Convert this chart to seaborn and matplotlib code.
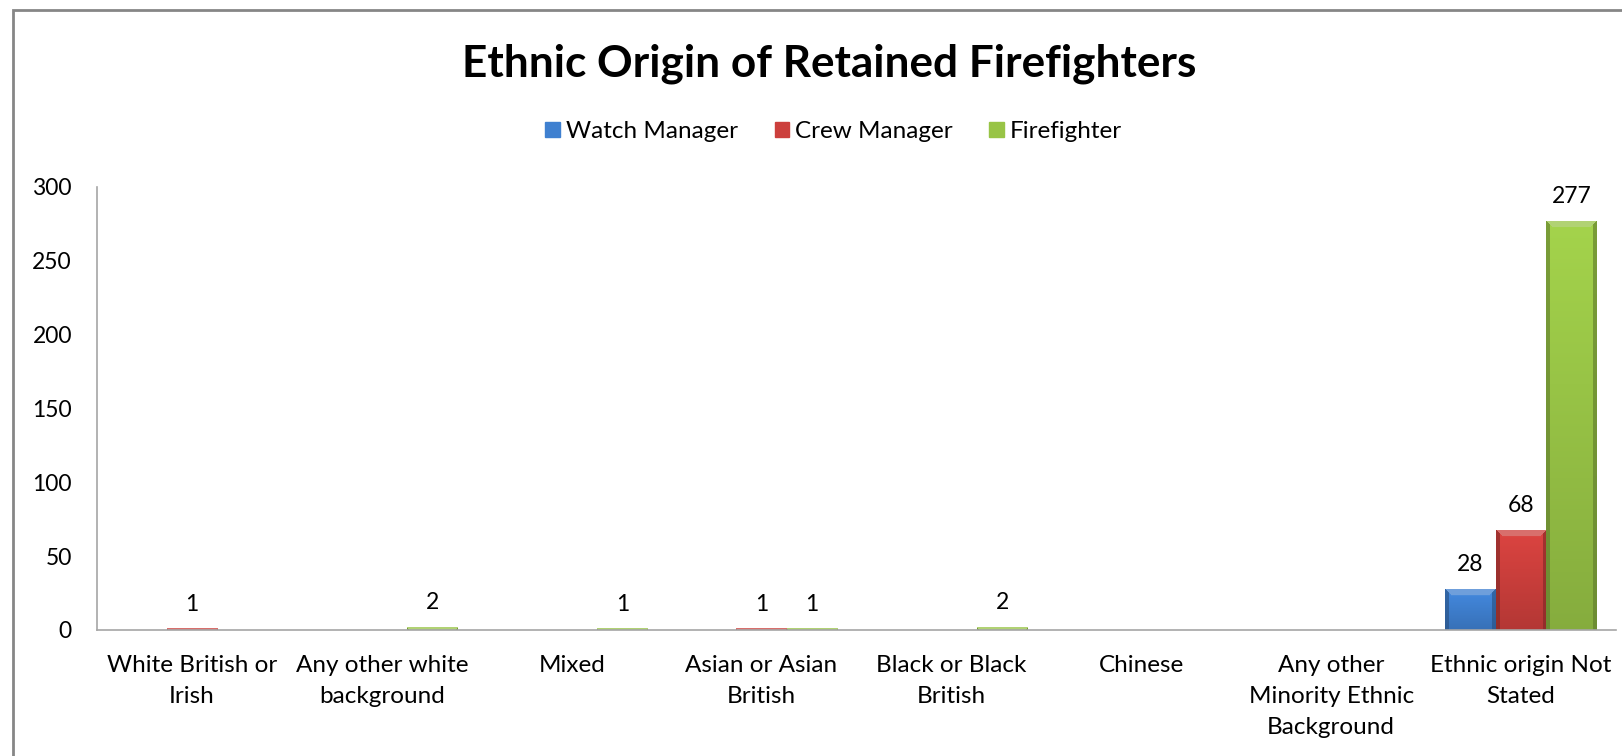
import matplotlib
matplotlib.use("Agg")
import matplotlib.pyplot as plt
import matplotlib.patches as mpatches
import matplotlib.colors as mcolors
import numpy as np
import seaborn as sns
import pandas as pd

# Dados do gráfico
categories = [
    "White British or\nIrish",
    "Any other white\nbackground",
    "Mixed",
    "Asian or Asian\nBritish",
    "Black or Black\nBritish",
    "Chinese",
    "Any other\nMinority Ethnic\nBackground",
    "Ethnic origin Not\nStated",
]
watch_manager = [0, 0, 0, 0, 0, 0, 0, 28]
crew_manager = [1, 0, 0, 1, 0, 0, 0, 68]
firefighter = [0, 2, 1, 1, 2, 0, 0, 277]
series_names = ["Watch Manager", "Crew Manager", "Firefighter"]
y_ticks = [0, 50, 100, 150, 200, 250, 300]

colors = ["#3F80D0", "#CC3F3C", "#98C446"]

sns.set_style("white")
plt.rcParams["font.family"] = ["Lato", "DejaVu Sans"]

rows = []
for name, values in zip(series_names, [watch_manager, crew_manager, firefighter]):
    for cat, v in zip(categories, values):
        rows.append({"category": cat, "series": name, "value": v})
df = pd.DataFrame(rows)

fig = plt.figure(figsize=(16.22, 7.56), dpi=100)
ax = fig.add_axes([0.0598, 0.1667, 0.9365, 0.586])

sns.barplot(data=df, x="category", y="value", hue="series", palette=colors,
            order=categories, hue_order=series_names, ax=ax,
            edgecolor="none", linewidth=0, legend=False)

ax.set_ylim(0, 300)
ax.set_xlim(-0.5, len(categories) - 0.5)


# Efeito de bisel estilo Excel: gradiente vertical com bordas claras/escuras
def bevel_bar(ax, patch, color):
    h = patch.get_height()
    if h <= 0:
        return
    x0 = patch.get_x()
    w = patch.get_width()
    p0 = ax.transData.transform((x0, 0))
    p1 = ax.transData.transform((x0 + w, h))
    w_px = max(int(round(p1[0] - p0[0])), 2)
    h_px = max(int(round(p1[1] - p0[1])), 2)
    base = np.array(mcolors.to_rgb(color))
    light = base + (1 - base) * 0.25
    dark = base * 0.80
    img = np.zeros((h_px, w_px, 3))
    bevel = 7
    side = 4
    for r in range(h_px):
        t = r / max(h_px - 1, 1)
        body = np.clip(base * (1.08 - 0.2 * t), 0, 1)
        for c in range(w_px):
            dx = min(c, w_px - 1 - c)
            if r < bevel and r <= dx:
                img[r, c] = light
            elif dx < side:
                img[r, c] = dark * (1.0 - 0.1 * t)
            else:
                img[r, c] = body
    im = ax.imshow(img, extent=(x0, x0 + w, 0, h), aspect="auto",
                   interpolation="bilinear", zorder=patch.get_zorder() + 0.1)
    im.set_clip_path(patch)


for container, color in zip(ax.containers, colors):
    for bar in container:
        bevel_bar(ax, bar, color)

ax.set_ylim(0, 300)
ax.set_xlim(-0.5, len(categories) - 0.5)

# rótulos só para valores diferentes de zero
for container in ax.containers:
    labels = [f"{int(b.get_height())}" if b.get_height() > 0 else "" for b in container]
    ax.bar_label(container, labels=labels, padding=10, fontsize=16.5, color="#000000")

ax.set_yticks(y_ticks)
ax.set_xticks(range(len(categories)))
ax.set_xticklabels(categories, linespacing=1.6)
ax.set_xlabel("")
ax.set_ylabel("")
ax.tick_params(axis="both", length=0, colors="#000000")
ax.tick_params(axis="x", pad=18, labelsize=17.5)
ax.tick_params(axis="y", pad=18, labelsize=16.5)
for side in ["top", "right"]:
    ax.spines[side].set_visible(False)
for side in ["left", "bottom"]:
    ax.spines[side].set_color("#A6A6A6")
    ax.spines[side].set_linewidth(1.2)

# título e legenda
fig.text(0.511, 0.899, "Ethnic Origin of Retained Firefighters", ha="center", va="baseline",
         fontsize=31.8, fontweight="bold", color="#000000")
handles = [mpatches.Patch(color=c, label=n) for c, n in zip(colors, series_names)]
fig.legend(handles=handles, loc="center", bbox_to_anchor=(0.514, 0.826), ncol=3,
           frameon=False, fontsize=17.5, handlelength=0.6, handleheight=0.6,
           handletextpad=0.25, columnspacing=1.5, labelcolor="#000000")

# borda da área do gráfico
border = mpatches.Rectangle((13 / 1622, -0.1), 1.2, 1 - 10 / 756 + 0.1,
                            transform=fig.transFigure, fill=False,
                            edgecolor="#868686", linewidth=2)
fig.patches.append(border)

fig.savefig("out.png", dpi=100)
